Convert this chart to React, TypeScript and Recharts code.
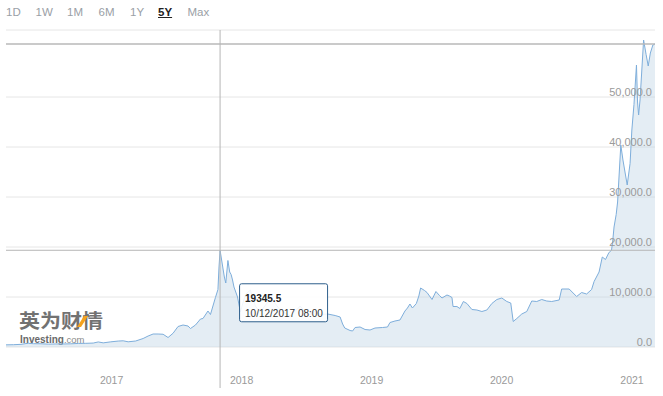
import React from 'react';
import { AreaChart, Area, XAxis, YAxis, CartesianGrid, ReferenceLine, ReferenceDot } from 'recharts';

// ---- data ----
const dates2016 = ['2016-04-18','2016-05-09','2016-05-30','2016-06-13','2016-06-20','2016-07-04','2016-07-25','2016-08-15','2016-09-05','2016-09-26','2016-10-17','2016-11-07','2016-11-28','2016-12-19'];
const prices2016 = [430,460,530,690,740,660,650,570,610,605,640,710,735,790];

const dates2017 = ['2017-01-02','2017-01-16','2017-02-06','2017-02-27','2017-03-13','2017-03-27','2017-04-17','2017-05-08','2017-05-22','2017-06-05','2017-06-19','2017-07-03','2017-07-17','2017-07-31','2017-08-14','2017-08-28','2017-09-11','2017-09-18','2017-10-02','2017-10-16','2017-10-23','2017-11-06','2017-11-13','2017-11-20','2017-11-27','2017-12-04','2017-12-07','2017-12-10','2017-12-22','2017-12-26'];
const prices2017 = [1010,830,1030,1190,1240,1040,1200,1700,2200,2600,2600,2550,1900,2750,4100,4400,4200,3700,4400,5600,5700,7200,6500,8200,9900,11500,16000,19345.5,14000,12800];

const dates2018 = ['2018-01-01','2018-01-06','2018-01-10','2018-01-14','2018-01-18','2018-01-28','2018-02-05','2018-02-19','2018-03-05','2018-03-19','2018-04-02','2018-04-23','2018-05-07','2018-05-28','2018-06-25','2018-07-23','2018-08-13','2018-09-03','2018-09-17','2018-10-08','2018-10-29','2018-11-12','2018-11-19','2018-11-25','2018-12-10','2018-12-17','2018-12-24'];
const prices2018 = [17300,15000,14500,13400,12000,10000,7000,10500,11400,8200,7000,9000,9300,7400,6200,8200,6300,7200,6500,6600,6300,6000,4600,3800,3300,3200,3900];

const dates2019 = ['2019-01-07','2019-01-21','2019-02-04','2019-02-18','2019-03-11','2019-03-25','2019-04-01','2019-04-15','2019-04-29','2019-05-13','2019-05-20','2019-05-27','2019-06-03','2019-06-14','2019-06-21','2019-06-26','2019-07-07','2019-07-14','2019-07-28','2019-08-08','2019-08-18','2019-08-25','2019-09-08','2019-09-15','2019-09-22','2019-09-25','2019-10-06','2019-10-14','2019-10-24','2019-11-03','2019-11-17','2019-12-01','2019-12-15','2019-12-29'];
const prices2019 = [4000,3500,3400,3800,3900,4000,4900,5200,5400,7200,7800,8600,7800,8700,10200,11800,11300,10900,9500,11100,10300,9800,10400,10200,9900,8100,8100,7700,9100,8700,7500,7400,7100,7400];

const dates2020 = ['2020-01-12','2020-01-26','2020-02-09','2020-02-23','2020-03-05','2020-03-12','2020-03-22','2020-04-05','2020-04-19','2020-05-03','2020-05-17','2020-05-31','2020-06-14','2020-06-28','2020-07-19','2020-07-26','2020-08-16','2020-09-06','2020-09-20','2020-10-04','2020-10-18','2020-10-25','2020-11-08','2020-11-17','2020-11-26','2020-12-05','2020-12-13','2020-12-16','2020-12-20','2020-12-26','2020-12-30'];
const prices2020 = [8700,9500,9800,9100,8800,5100,5700,6600,7100,9200,9100,9500,9200,9100,9400,11600,11600,10100,10900,10600,11500,13100,15000,18000,17500,18800,19400,21000,24000,26500,29000];

const dates2021 = ['2021-01-08','2021-01-14','2021-01-26','2021-02-03','2021-02-08','2021-02-14','2021-02-21','2021-02-24','2021-02-27','2021-03-03','2021-03-13','2021-03-20','2021-03-26','2021-04-01','2021-04-08','2021-04-14'];
const prices2021 = [40400,37400,32400,36700,43400,48500,56400,49000,46400,49400,61400,58500,56200,58800,60400,60600];

const rangeStart = '2016-04-18';
const rangeEnd = '2021-04-14';
const yTicks = [0, 10000, 20000, 30000, 40000, 50000];
const yMax = 63400;
const yearTickDates = ['2017-01-01', '2018-01-01', '2019-01-01', '2020-01-01', '2021-01-01'];
const yearLabels = ['2017', '2018', '2019', '2020', '2021'];
const rangeButtons = ['1D', '1W', '1M', '6M', '1Y', '5Y', 'Max'];
const activeRange = '5Y';
const hoverDate = '2017-12-10';
const hoverValue = 19345.5;
const hoverValueLabel = '19345.5';
const hoverDateLabel = '10/12/2017 08:00';

const allDates = [...dates2016, ...dates2017, ...dates2018, ...dates2019, ...dates2020, ...dates2021];
const allPrices = [...prices2016, ...prices2017, ...prices2018, ...prices2019, ...prices2020, ...prices2021];
const data = allDates.map((d, i) => ({ t: Date.parse(d), v: allPrices[i] }));
const lastValue = allPrices[allPrices.length - 1];
const yearTicks = yearTickDates.map((d) => Date.parse(d));

const FONT = '"Liberation Sans", Arial, sans-serif';
const buttonLeft = [6, 35.5, 67, 98.5, 130, 158, 187.5];

const XTick = (props: any) => {
  const idx = yearTicks.indexOf(props.payload.value);
  return (
    <text x={props.x + 2} y={props.y + 29} textAnchor="start" fontSize={10.5} fill="#9a9a9a" fontFamily={FONT}>
      {idx >= 0 ? yearLabels[idx] : ''}
    </text>
  );
};

const fmt = (v: number) => v.toLocaleString('en-US', { minimumFractionDigits: 1, maximumFractionDigits: 1 });

const makeYLabel = (v: number) => (p: any) => {
  const vb = p.viewBox || {};
  return (
    <text x={vb.x + vb.width - 3} y={vb.y - 1} textAnchor="end" fontSize={11} fill="#9a9a9a" fontFamily={FONT}>
      {fmt(v)}
    </text>
  );
};

const VCross = (p: any) => {
  const top = Math.min(p.y1, p.y2);
  const bottom = Math.max(p.y1, p.y2);
  return <line x1={p.x1} x2={p.x2} y1={top} y2={bottom + 41} stroke="#b5b5b5" strokeWidth={1} />;
};

const TooltipBox = (p: any) => {
  const x = p.cx + 19;
  const y = p.cy + 33;
  return (
    <g>
      <rect x={x + 0.5} y={y + 0.5} width={88} height={38} rx={2} fill="#ffffff" fillOpacity={0.88} stroke="#2e5f8c" strokeWidth={1} />
      <text x={x + 6} y={y + 19} fontSize={10} fontWeight="bold" fill="#222" fontFamily={FONT}>{hoverValueLabel}</text>
      <text x={x + 6} y={y + 34} fontSize={10} fill="#333" fontFamily={FONT}>{hoverDateLabel}</text>
    </g>
  );
};

const Watermark = () => (
  <svg width={663} height={396} style={{ position: 'absolute', left: 0, top: 0 }}>
    <text x={19} y={328} fontSize={19} fontWeight="bold" fill="#727272" fontFamily='"Noto Sans CJK SC", sans-serif' textLength={84} lengthAdjust="spacingAndGlyphs">英为财情</text>
    <polygon points="77,327 84,316 88,316 81,327" fill="#f5a21c" />
    <text x={20} y={343} fontFamily={FONT}>
      <tspan fontSize={10} fontWeight="bold" fill="#6a6a6a">Investing</tspan>
      <tspan fontSize={9.5} fill="#8a8a8a">.com</tspan>
    </text>
  </svg>
);

export default function App() {
  return (
    <div style={{ position: 'fixed', left: 0, top: 0, width: 663, height: 396, background: '#fff', overflow: 'hidden' }}>
      {rangeButtons.map((b, i) => (
        <span
          key={b}
          style={{
            position: 'absolute',
            left: buttonLeft[i],
            top: 5,
            fontFamily: FONT,
            fontSize: 11.5,
            lineHeight: '14px',
            color: b === activeRange ? '#222' : '#9aa0a6',
            fontWeight: b === activeRange ? 'bold' : 'normal',
            textDecoration: b === activeRange ? 'underline' : 'none',
          }}
        >
          {b}
        </span>
      ))}
      <Watermark />
      <div style={{ position: 'absolute', left: 0, top: 0 }}>
        <AreaChart width={663} height={396} data={data} margin={{ top: 30, right: 8, bottom: 0, left: 6 }}>
          <CartesianGrid horizontal vertical={false} stroke="#e6e6e6" />
          <XAxis
            dataKey="t"
            type="number"
            scale="time"
            domain={[Date.parse(rangeStart), Date.parse(rangeEnd)]}
            ticks={yearTicks}
            interval={0}
            tick={<XTick />}
            axisLine={false}
            tickLine={false}
            height={49}
            allowDataOverflow
          />
          <YAxis hide orientation="right" domain={[0, yMax]} ticks={yTicks} allowDataOverflow />
          <Area
            type="linear"
            dataKey="v"
            stroke="#7eaedb"
            strokeWidth={1}
            fill="#bcd2e4"
            fillOpacity={0.4}
            isAnimationActive={false}
            dot={false}
            activeDot={false}
          />
          {yTicks.map((v) => (
            <ReferenceLine key={v} y={v} stroke="none" label={makeYLabel(v)} />
          ))}
          <ReferenceLine y={lastValue} stroke="#b8b8b8" strokeWidth={1.5} />
          <ReferenceLine y={hoverValue} stroke="#b5b5b5" strokeWidth={1} />
          <ReferenceLine x={Date.parse(hoverDate)} shape={VCross} />
          <ReferenceDot x={Date.parse(hoverDate)} y={hoverValue} r={0} shape={TooltipBox} />
        </AreaChart>
      </div>
    </div>
  );
}
